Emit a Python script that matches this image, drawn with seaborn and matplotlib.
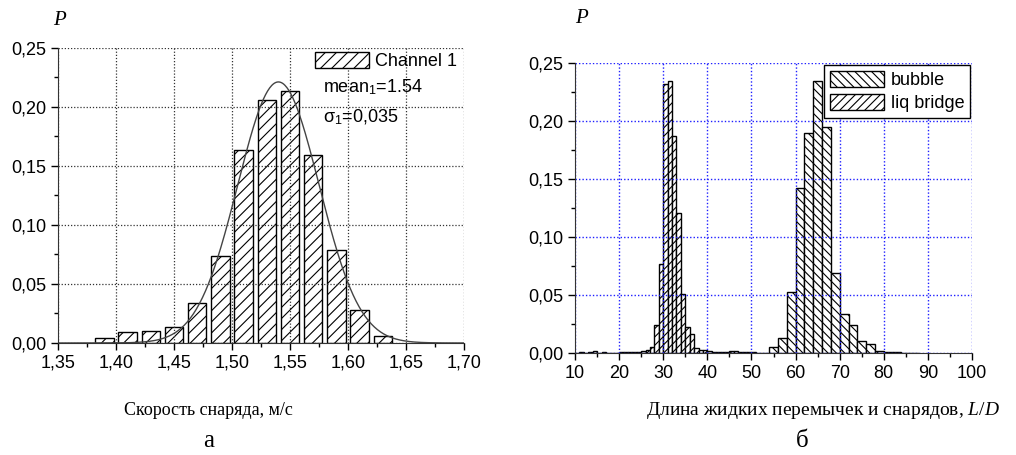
import numpy as np
import pandas as pd
import matplotlib
matplotlib.use("Agg")
import matplotlib.pyplot as plt
import seaborn as sns
from matplotlib.patches import Patch
from matplotlib.ticker import FuncFormatter, MultipleLocator

# панель а: скорость снаряда, Channel 1
speed_centers = [1.39, 1.41, 1.43, 1.45, 1.47, 1.49, 1.51, 1.53, 1.55, 1.57, 1.59, 1.61, 1.63]
speed_p = [0.004, 0.009, 0.010, 0.0135, 0.034, 0.0735, 0.163, 0.206, 0.213, 0.159, 0.079, 0.0276, 0.0055]
fit_mean = 1.54
fit_sigma = 0.035
fit_peak = 0.221

# панель б: длины перемычек (шаг 1) и снарядов (шаг 2)
liq_left = [11, 13, 14, 16, 20, 21, 22, 23, 24, 25, 26, 27, 28, 29, 30, 31, 32, 33, 34, 35,
            36, 37, 38, 39, 40, 41, 42, 43, 44, 45, 46, 47, 48, 49, 50]
liq_p = [0.0005, 0.001, 0.0015, 0.001, 0.0005, 0.0005, 0.0008, 0.0008, 0.001, 0.0015, 0.0025,
         0.005, 0.024, 0.077, 0.232, 0.235, 0.1875, 0.1205, 0.051, 0.022,
         0.016, 0.004, 0.003, 0.003, 0.002, 0.001, 0.001, 0.0008, 0.0005, 0.0015, 0.0015,
         0.001, 0.001, 0.0005, 0.0005]
bub_left = [50, 52, 54, 56, 58, 60, 62, 64, 66, 68, 70, 72, 74, 76, 78, 80, 82, 84, 86]
bub_p = [0.0003, 0.0003, 0.005, 0.0127, 0.053, 0.142, 0.190, 0.235, 0.195, 0.069, 0.034,
         0.024, 0.0105, 0.008, 0.002, 0.001, 0.0005, 0.0003, 0.0003]

plt.rcParams["font.family"] = ["Liberation Sans", "DejaVu Sans"]
plt.rcParams["mathtext.fontset"] = "custom"
plt.rcParams["mathtext.it"] = "Liberation Serif:italic"
plt.rcParams["mathtext.rm"] = "Liberation Serif"
plt.rcParams["hatch.linewidth"] = 0.8

fig = plt.figure(figsize=(10.16, 4.55), dpi=100)
ax1 = fig.add_axes([0.0571, 0.2462, 0.3996, 0.649])
ax2 = fig.add_axes([0.566, 0.2242, 0.3907, 0.6367])

comma2 = FuncFormatter(lambda v, p: f"{v:.2f}".replace(".", ","))

# --- а ---
df_speed = pd.DataFrame({"v": speed_centers, "p": speed_p})
sns.histplot(data=df_speed, x="v", weights="p", binwidth=0.02, binrange=(1.38, 1.64),
             shrink=0.8, color="white", alpha=1,
             edgecolor="black", linewidth=1.0, hatch="///", ax=ax1)
xs = np.linspace(1.35, 1.70, 400)
sns.lineplot(x=xs, y=fit_peak * np.exp(-0.5 * ((xs - fit_mean) / fit_sigma) ** 2),
             color="#444444", linewidth=1.0, ax=ax1)
ax1.set_xlim(1.35, 1.70)
ax1.set_ylim(0, 0.25)
ax1.xaxis.set_major_locator(MultipleLocator(0.05))
ax1.xaxis.set_minor_locator(MultipleLocator(0.025))
ax1.yaxis.set_major_locator(MultipleLocator(0.05))
ax1.yaxis.set_minor_locator(MultipleLocator(0.025))
ax1.xaxis.set_major_formatter(comma2)
ax1.yaxis.set_major_formatter(comma2)
ax1.grid(True, which="major", color="#333333", linestyle=(0, (1, 1.5)), linewidth=0.9)
ax1.legend(handles=[Patch(facecolor="white", edgecolor="black", hatch="///", label="Channel 1")],
           loc="upper right", frameon=False, fontsize=13, handlelength=3.0, handleheight=1.0,
           handletextpad=0.3, borderaxespad=0.0, bbox_to_anchor=(1.0, 1.01))
ax1.text(0.653, 0.868, "mean$_\\mathregular{1}$=1.54", transform=ax1.transAxes,
         fontsize=13, va="center", ha="left")
ax1.text(0.653, 0.765, "σ$_\\mathregular{1}$=0,035", transform=ax1.transAxes,
         fontsize=13, va="center", ha="left")

# --- б ---
df_liq = pd.DataFrame({"l": np.array(liq_left, dtype=float) + 0.5, "p": liq_p})
df_bub = pd.DataFrame({"l": np.array(bub_left, dtype=float) + 1.0, "p": bub_p})
sns.histplot(data=df_liq, x="l", weights="p", binwidth=1, binrange=(10, 51), color="white", alpha=1,
             edgecolor="black", linewidth=1.0, hatch="////", ax=ax2)
sns.histplot(data=df_bub, x="l", weights="p", binwidth=2, binrange=(50, 88), color="white", alpha=1,
             edgecolor="black", linewidth=1.0, hatch="\\\\\\\\", ax=ax2)
ax2.set_xlim(10, 100)
ax2.set_ylim(0, 0.25)
ax2.xaxis.set_major_locator(MultipleLocator(10))
ax2.xaxis.set_minor_locator(MultipleLocator(5))
ax2.yaxis.set_major_locator(MultipleLocator(0.05))
ax2.yaxis.set_minor_locator(MultipleLocator(0.025))
ax2.yaxis.set_major_formatter(comma2)
ax2.grid(True, which="major", color="#2020ff", linestyle=(0, (1, 1.5)), linewidth=1.0)
leg = ax2.legend(handles=[Patch(facecolor="white", edgecolor="black", hatch="\\\\\\\\", label="bubble"),
                          Patch(facecolor="white", edgecolor="black", hatch="////", label="liq bridge")],
                 loc="upper right", fontsize=13, handlelength=3.0, handleheight=1.0,
                 handletextpad=0.4, borderaxespad=0.1, fancybox=False, framealpha=1,
                 edgecolor="black", borderpad=0.3, labelspacing=0.3)
leg.get_frame().set_linewidth(1.0)

for ax in (ax1, ax2):
    ax.set_xlabel("")
    ax.set_ylabel("")
    ax.spines["top"].set_visible(False)
    ax.spines["right"].set_visible(False)
    ax.spines["left"].set_color("#333333")
    ax.spines["bottom"].set_color("#333333")
    ax.tick_params(which="major", direction="out", length=5, width=1, labelsize=13, colors="black")
    ax.tick_params(which="minor", direction="out", length=3, width=1)

serif = ["Liberation Serif", "DejaVu Serif"]
fig.text(0.052, 0.955, "P", family=serif, style="italic", fontsize=15, ha="left", va="center")
fig.text(0.566, 0.96, "P", family=serif, style="italic", fontsize=15, ha="left", va="center")
fig.text(0.205, 0.097, "Скорость снаряда, м/с", family=serif, fontsize=13, ha="center", va="center")
fig.text(0.205, 0.03, "а", family=serif, fontsize=18, ha="center", va="center")
fig.text(0.81, 0.097, "Длина жидких перемычек и снарядов, $\\mathit{L}$/$\\mathit{D}$",
         family=serif, fontsize=14, ha="center", va="center")
fig.text(0.79, 0.03, "б", family=serif, fontsize=18, ha="center", va="center")

fig.savefig("out.png", dpi=100)
